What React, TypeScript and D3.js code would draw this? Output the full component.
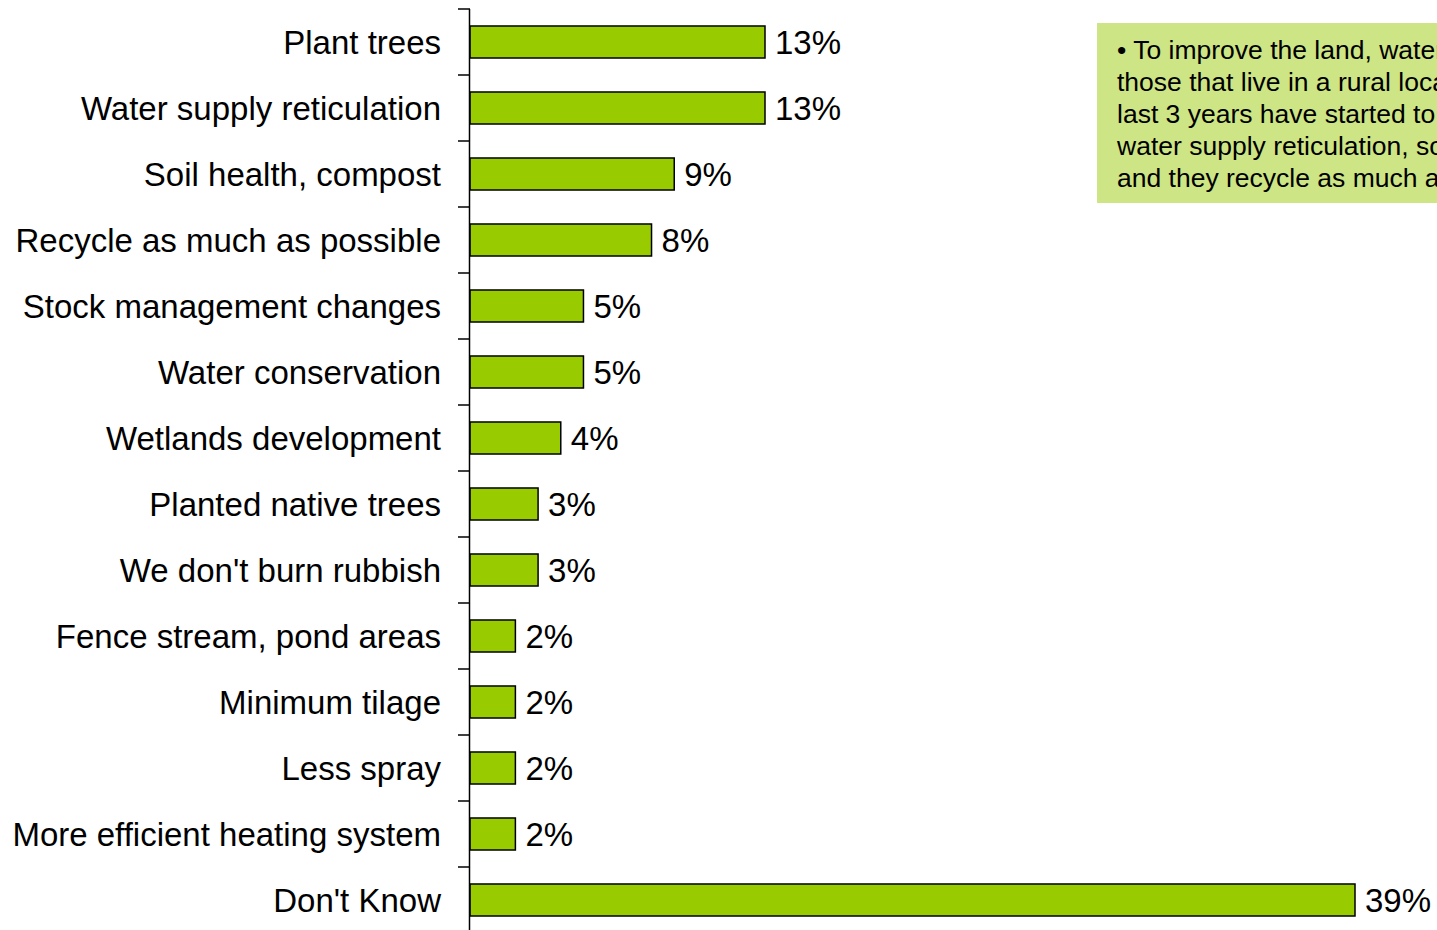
import React from "react";
import * as d3 from "d3";

const categories = [
  "Plant trees",
  "Water supply reticulation",
  "Soil health, compost",
  "Recycle as much as possible",
  "Stock management changes",
  "Water conservation",
  "Wetlands development",
  "Planted native trees",
  "We don't burn rubbish",
  "Fence stream, pond areas",
  "Minimum tilage",
  "Less spray",
  "More efficient heating system",
  "Don't Know",
];
const values = [13, 13, 9, 8, 5, 5, 4, 3, 3, 2, 2, 2, 2, 39];
const noteLines = [
  "• To improve the land, water and air quality,",
  "those that live in a rural location over the",
  "last 3 years have started to plant trees,",
  "water supply reticulation, soil health, compost",
  "and they recycle as much as possible.",
];

const W = 1437;
const H = 930;
const FONT = "Arial, 'Liberation Sans', sans-serif";

export default function App() {
  const x = d3.scaleLinear().domain([0, 39]).range([470, 1355]);
  const y = d3.scaleBand<string>().domain(categories).range([9, 9 + 66 * 14]).paddingInner(0.515).paddingOuter(0.2575);
  const step = y.step();
  return (
    <svg width={W} height={H} style={{ position: "absolute", left: 0, top: 0, background: "#fff" }} fontFamily={FONT}>
      {categories.map((c, i) => {
        const by = y(c)!;
        return (
          <g key={c}>
            <rect x={x(0)} y={by} width={x(values[i]) - x(0)} height={y.bandwidth()} fill="#99CC00" stroke="#000" strokeWidth={1.5} />
            <text x={441} y={by + y.bandwidth() / 2} dy="0.35em" textAnchor="end" fontSize={33} fill="#000">{c}</text>
            <text x={x(values[i]) + 10} y={by + y.bandwidth() / 2} dy="0.35em" fontSize={33} fill="#000">{values[i]}%</text>
          </g>
        );
      })}
      <line x1={469.5} x2={469.5} y1={9} y2={H} stroke="#000" strokeWidth={1.5} />
      {d3.range(15).map((k) => (
        <line key={k} x1={458} x2={470} y1={9 + k * step} y2={9 + k * step} stroke="#000" strokeWidth={1.5} />
      ))}
      <rect x={1097} y={23} width={400} height={180} fill="#CDE584" />
      {noteLines.map((l, i) => (
        <text key={i} x={1117} y={59 + i * 32} fontSize={26.5} fill="#000">{l}</text>
      ))}
    </svg>
  );
}
